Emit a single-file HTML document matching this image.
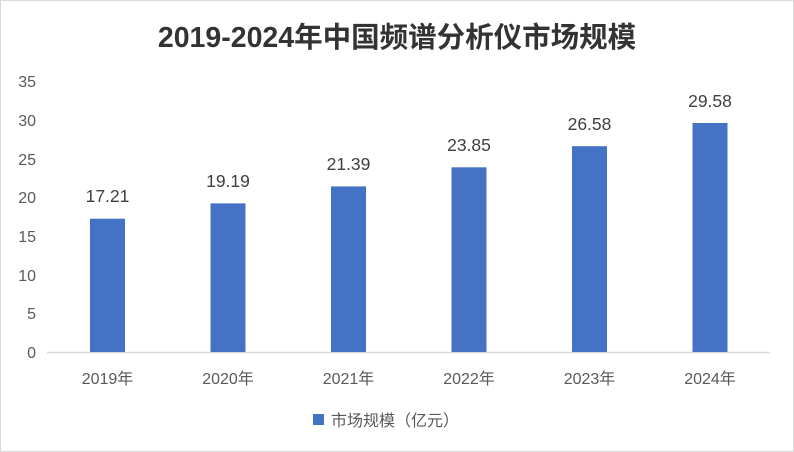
<!DOCTYPE html>
<html><head><meta charset="utf-8"><style>
html,body{margin:0;padding:0;background:#fff;}
svg{display:block;font-family:"Liberation Sans","Noto Sans CJK SC",sans-serif;}
</style></head><body>
<svg width="794" height="452" viewBox="0 0 794 452" xmlns="http://www.w3.org/2000/svg">
<rect x="0.5" y="0.5" width="793" height="451" fill="#fff" stroke="#d9d9d9" stroke-width="1"/>
<text x="397" y="47" text-anchor="middle" font-size="28.5" font-weight="bold" fill="#333">2019-2024年中国频谱分析仪市场规模</text>
<g font-size="16" fill="#595959" text-anchor="end">
<text x="36" y="358">0</text>
<text x="36" y="319">5</text>
<text x="36" y="281">10</text>
<text x="36" y="242">15</text>
<text x="36" y="203">20</text>
<text x="36" y="165">25</text>
<text x="36" y="126">30</text>
<text x="36" y="87">35</text>
</g>
<line x1="47" y1="352.5" x2="770" y2="352.5" stroke="#d9d9d9" stroke-width="1.5"/>
<g fill="#4472c4">
<rect x="90" y="218.7" width="35" height="133.3"/>
<rect x="210.5" y="203.4" width="35" height="148.6"/>
<rect x="331" y="186.4" width="35" height="165.6"/>
<rect x="451.5" y="167.3" width="35" height="184.7"/>
<rect x="572" y="146.2" width="35" height="205.8"/>
<rect x="692.5" y="123" width="35" height="229"/>
</g>
<g font-size="17.5" fill="#404040" text-anchor="middle">
<text x="107.5" y="202">17.21</text>
<text x="228" y="187">19.19</text>
<text x="348.5" y="170">21.39</text>
<text x="469" y="151">23.85</text>
<text x="589.5" y="130">26.58</text>
<text x="710" y="107">29.58</text>
</g>
<g font-size="16" fill="#595959" text-anchor="middle">
<text x="107.5" y="384">2019年</text>
<text x="228" y="384">2020年</text>
<text x="348.5" y="384">2021年</text>
<text x="469" y="384">2022年</text>
<text x="589.5" y="384">2023年</text>
<text x="710" y="384">2024年</text>
</g>
<rect x="313" y="414" width="11" height="11" fill="#4472c4"/>
<text x="331" y="426" font-size="16" fill="#595959">市场规模（亿元）</text>
</svg>
</body></html>
